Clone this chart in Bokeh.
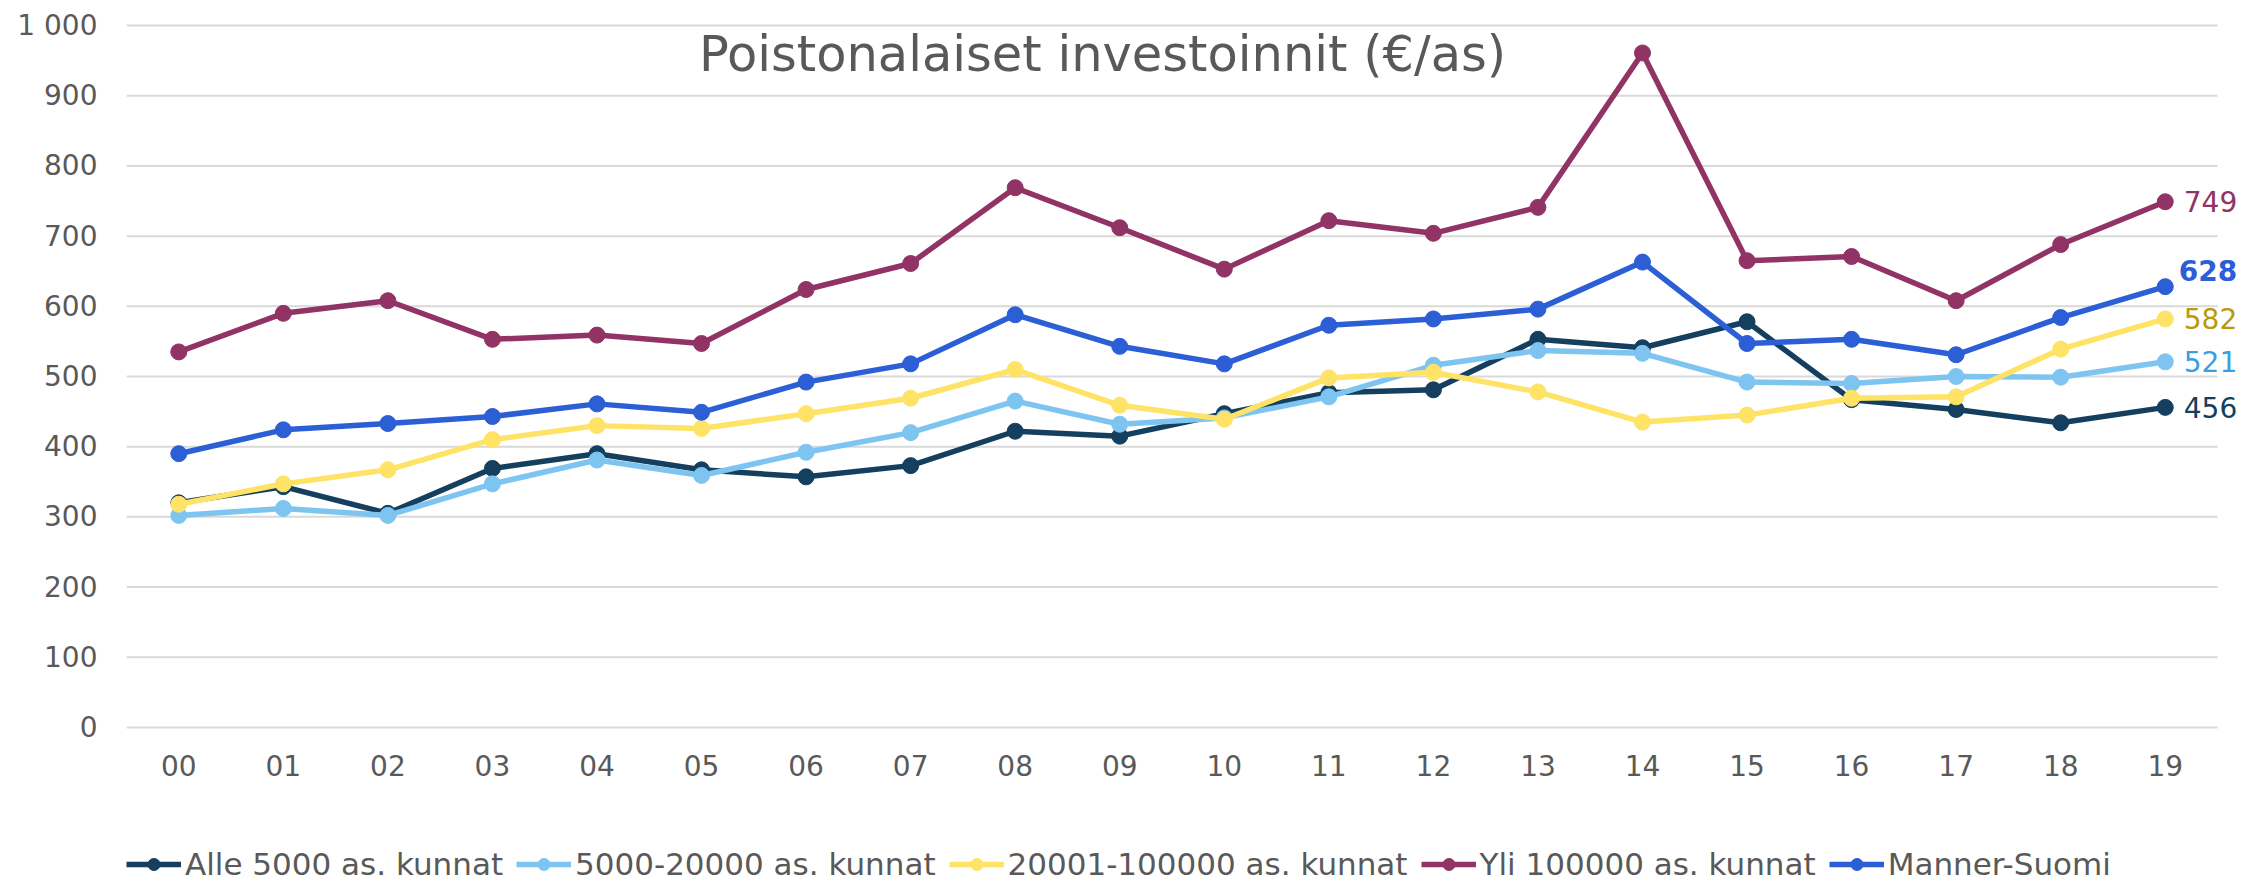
from bokeh.plotting import figure
from bokeh.layouts import column
from bokeh.models import (ColumnDataSource, Range1d, FixedTicker, Legend, LegendItem, Label)
from bokeh.embed import file_html
from bokeh.resources import INLINE

years = ["00", "01", "02", "03", "04", "05", "06", "07", "08", "09",
         "10", "11", "12", "13", "14", "15", "16", "17", "18", "19"]

alle_5000 = [320, 343, 305, 369, 390, 367, 357, 373, 422, 415,
             447, 477, 481, 553, 541, 578, 467, 453, 434, 456]
k5000_20000 = [302, 312, 302, 347, 381, 359, 392, 420, 465, 432,
               441, 471, 516, 537, 533, 492, 490, 500, 499, 521]
k20001_100000 = [318, 347, 367, 410, 430, 426, 447, 469, 510, 459,
                 439, 498, 506, 478, 435, 445, 469, 471, 539, 582]
yli_100000 = [535, 590, 608, 553, 559, 547, 624, 661, 769, 712,
              653, 722, 704, 741, 961, 665, 671, 608, 688, 749]
manner_suomi = [390, 424, 433, 443, 461, 449, 492, 518, 588, 543,
                518, 573, 582, 596, 663, 547, 553, 531, 584, 628]

series_names = ["Alle 5000 as. kunnat", "5000-20000 as. kunnat",
                "20001-100000 as. kunnat", "Yli 100000 as. kunnat", "Manner-Suomi"]
series_values = [alle_5000, k5000_20000, k20001_100000, yli_100000, manner_suomi]
series_colors = ["#143F5E", "#7DC5F0", "#FFE366", "#913465", "#2C5ED6"]
label_colors = ["#143F5E", "#3A9FE0", "#B89A0C", "#913465", "#2C5ED6"]

y_ticks = [0, 100, 200, 300, 400, 500, 600, 700, 800, 900, 1000]
y_tick_labels = {t: ("1 000" if t == 1000 else str(t)) for t in y_ticks}
title_text = "Poistonalaiset investoinnit (€/as)"

FONT = "DejaVu Sans"
GREY = "#595959"

xs = list(range(len(years)))           # position of each year category
x_lo, x_hi = xs[0] - 0.5, xs[-1] + 0.5  # category band edges

p = figure(width=2244, height=836,
           x_range=Range1d(x_lo, x_hi + 0.258), y_range=Range1d(-3, 1003),
           output_backend="svg", toolbar_location=None,
           min_border_left=126, min_border_right=0, min_border_top=23,
           min_border_bottom=107, background_fill_color="white",
           border_fill_color="white")
p.outline_line_color = None
p.xgrid.grid_line_color = None
p.ygrid.grid_line_color = None

# horizontal gridlines limited to the category band
p.segment(x0=[x_lo] * len(y_ticks), x1=[x_hi] * len(y_ticks), y0=y_ticks, y1=y_ticks,
          line_color="#D9D9D9", line_width=2)

p.xaxis.ticker = FixedTicker(ticks=xs)
p.xaxis.major_label_overrides = {i: y for i, y in zip(xs, years)}
p.yaxis.ticker = FixedTicker(ticks=y_ticks)
p.yaxis.major_label_overrides = y_tick_labels
for ax in (p.xaxis[0], p.yaxis[0]):
    ax.axis_line_color = None
    ax.major_tick_line_color = None
    ax.minor_tick_line_color = None
    ax.major_tick_out = 0
    ax.major_tick_in = 0
    ax.major_label_text_font = FONT
    ax.major_label_text_font_size = "28px"
    ax.major_label_text_color = GREY
p.yaxis.major_label_standoff = 29
p.xaxis.major_label_standoff = 25

# legend strip below the chart (same data sources, glyphs fall outside its view)
lg = figure(width=2244, height=46, x_range=Range1d(0, 1), y_range=Range1d(5000, 5001),
            x_axis_type=None, y_axis_type=None, output_backend="svg",
            toolbar_location=None, min_border=0, background_fill_color="white",
            border_fill_color="white")
lg.outline_line_color = None
lg.grid.grid_line_color = None

items = []
for name, vals, col in zip(series_names, series_values, series_colors):
    src = ColumnDataSource(dict(x=xs, y=vals))
    p.line("x", "y", source=src, line_color=col, line_width=5.5)
    p.scatter("x", "y", source=src, size=16, fill_color=col, line_color=col)
    lr = lg.line("x", "y", source=src, line_color=col, line_width=5.5)
    sr = lg.scatter("x", "y", source=src, size=14, fill_color=col, line_color=col)
    items.append(LegendItem(label=name, renderers=[lr, sr]))

legend = Legend(items=items, orientation="horizontal", location=(0, 0),
                padding=0, margin=0, spacing=13, label_standoff=4,
                glyph_width=55, glyph_height=30, label_height=30,
                label_text_font=FONT, label_text_font_size="31px",
                label_text_color=GREY, border_line_color=None,
                background_fill_alpha=0)
lg.add_layout(legend, "center")

for i, (vals, col) in enumerate(zip(series_values, label_colors)):
    last = vals[-1]
    lab = Label(x=xs[-1], y=last, text=str(last), x_offset=72,
                y_offset=(16 if i == 4 else 0),
                text_align="right", text_baseline="middle",
                text_font=FONT, text_font_size="28px", text_color=col,
                text_font_style=("bold" if i == 4 else "normal"))
    p.add_layout(lab)

title = Label(x=8.835, y=959, text=title_text, text_align="center",
              text_baseline="middle", text_font=FONT, text_font_size="49.5px",
              text_color=GREY)
p.add_layout(title)

layout = column(p, lg, spacing=0)
open("out.html", "w").write(file_html(layout, INLINE))
